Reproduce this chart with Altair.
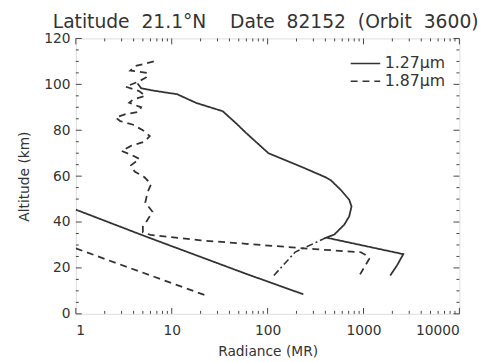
import altair as alt
import pandas as pd

# ---- data ----
# 1.27 um, upper profile (solid)
a1_rad = [4.4, 4.8, 6.6, 11.4, 18, 34, 47, 59, 102, 227, 393, 457, 583, 710, 750, 710, 631, 498, 409, 2600, 2230, 1900]
a1_alt = [100.4, 98.3, 97.2, 95.7, 91.9, 88.3, 83, 79, 70, 64, 59.7, 58.2, 53.9, 49.7, 46.8, 42.5, 38.9, 34.6, 33.2, 26, 21, 16.7]
# 1.27 um, lower profile (solid)
a2_rad = [1, 5.2, 59, 236]
a2_alt = [45.4, 33.9, 17.5, 8.5]
# 1.87 um, upper profile (dashed)
b1_rad = [6.5, 4.2, 3.7, 5.6, 5.4, 4.4, 3.3, 4.6, 5.3, 4.0, 3.6, 4.8, 4.5, 3.3, 2.6, 2.9, 3.9, 5.0, 5.9, 5.2,
          3.8, 3.0, 3.9, 4.6, 3.75, 4.1, 5.2, 6.1, 5.6, 5.3, 6.3, 5.6, 5.0, 5.0, 6.0, 20, 60, 310, 940, 1090, 1150, 900]
b1_alt = [110, 108, 106, 105, 103, 101, 99, 97, 95, 93.5, 92, 90, 88, 87, 85.5, 84, 82.5, 80, 77.5, 75,
          73.3, 71, 69, 67.5, 64.7, 62, 59.5, 56.5, 53, 48.5, 44.5, 41, 38, 35.5, 34.4, 32, 30.5, 28.2, 26.8, 25.3, 24, 16.5]
# 1.87 um, lower profile (dashed)
b2_rad = [1, 22]
b2_alt = [28.5, 8.2]
# connecting segment (dash-dot)
c_rad = [409, 194, 112]
c_alt = [33.2, 26.9, 16]

series_names = ["1.27\u03bcm", "1.87\u03bcm"]

x_major = [1, 10, 100, 1000, 10000]
x_minor = [m * d for d in [1, 10, 100, 1000] for m in range(2, 10)]
y_major = [0, 20, 40, 60, 80, 100, 120]
y_minor = [v for v in range(5, 120, 5) if v % 20 != 0]

NB2 = "\u00a0\u00a0"
title_text = ("Latitude" + NB2 + "21.1\u00b0N" + NB2 + NB2 + "Date" + NB2 + "82152" + NB2
              + "(Orbit" + NB2 + "3600)")

# ---- build tables ----
rows = []
def add(series, seg, xs_, ys_):
    for i, (x, y) in enumerate(zip(xs_, ys_)):
        rows.append(dict(series=series, seg=seg, i=i, rad=x, alt=y))

add(series_names[0], "a1", a1_rad, a1_alt)
add(series_names[0], "a2", a2_rad, a2_alt)
add(series_names[1], "b1", b1_rad, b1_alt)
add(series_names[1], "b2", b2_rad, b2_alt)
df = pd.DataFrame(rows)
dfc = pd.DataFrame(dict(i=list(range(len(c_rad))), rad=c_rad, alt=c_alt))

W, H = 390, 280
FONT = "DejaVu Sans"
INK = "#333333"
xs = alt.Scale(type="log", domain=[1, 10000], nice=False)
ys = alt.Scale(domain=[0, 120], nice=False, zero=False)

x_axis = alt.Axis(
    values=x_major, format="d", ticks=False, domain=False, grid=False,
    title="Radiance (MR)", labelPadding=10, titlePadding=7,
    labelFontSize=14, titleFontSize=14, labelFont=FONT, titleFont=FONT,
    labelColor=INK, titleColor=INK, titleFontWeight="normal")
y_axis = alt.Axis(
    values=y_major, ticks=False, domain=False, grid=False,
    title="Altitude (km)", labelPadding=6, titlePadding=12,
    labelFontSize=14, titleFontSize=14, labelFont=FONT, titleFont=FONT,
    labelColor=INK, titleColor=INK, titleFontWeight="normal")

lines = alt.Chart(df).mark_line(strokeWidth=1.8, color=INK, clip=True).encode(
    x=alt.X("rad:Q", scale=xs, axis=x_axis),
    y=alt.Y("alt:Q", scale=ys, axis=y_axis),
    strokeDash=alt.StrokeDash("series:N", scale=alt.Scale(domain=series_names, range=[[1, 0], [7, 5]]),
                              legend=alt.Legend(title=None, orient="none", legendX=286, legendY=17,
                                                symbolType="M-2,0H2", symbolSize=225, symbolStrokeWidth=1.5,
                                                symbolStrokeColor=INK, symbolFillColor="transparent",
                                                labelFontSize=16, labelFont=FONT,
                                                labelColor=INK, labelOffset=11, rowPadding=1)),
    detail="seg:N",
    order="i:Q",
)

dashdot = alt.Chart(dfc).mark_line(strokeWidth=1.6, color=INK, strokeDash=[7, 3, 2, 3], clip=True).encode(
    x=alt.X("rad:Q", scale=xs, axis=x_axis),
    y=alt.Y("alt:Q", scale=ys, axis=y_axis),
    order="i:Q",
)

def tick_layer(vals, channel, side, length):
    d = pd.DataFrame({"v": vals})
    if channel == "x":
        enc = dict(x=alt.X("v:Q", scale=xs, axis=x_axis))
        if side == "bottom":
            enc.update(y=alt.value(H), y2=alt.value(H - length))
        else:
            enc.update(y=alt.value(0), y2=alt.value(length))
    else:
        enc = dict(y=alt.Y("v:Q", scale=ys, axis=y_axis))
        if side == "left":
            enc.update(x=alt.value(0), x2=alt.value(length))
        else:
            enc.update(x=alt.value(W), x2=alt.value(W - length))
    return alt.Chart(d).mark_rule(color="#444444", strokeWidth=1).encode(**enc)

ticks = [
    tick_layer(x_major, "x", "bottom", 6), tick_layer(x_minor, "x", "bottom", 3),
    tick_layer(x_major, "x", "top", 6), tick_layer(x_minor, "x", "top", 3),
    tick_layer(y_major, "y", "left", 6), tick_layer(y_minor, "y", "left", 3),
    tick_layer(y_major, "y", "right", 6), tick_layer(y_minor, "y", "right", 3),
]

chart = alt.layer(lines, dashdot, *ticks).properties(
    width=W, height=H,
    title=alt.TitleParams(title_text, fontSize=19, font=FONT, fontWeight="normal", color=INK,
                          anchor="middle", offset=0, dx=-2),
    autosize=alt.AutoSizeParams(type="none"),
    padding={"left": 69, "top": 28, "right": 23, "bottom": 45},
).configure_view(stroke="#444444", strokeWidth=1.5).configure(background="white")

chart.save("out.html", embed_options={"renderer": "svg", "actions": False})
